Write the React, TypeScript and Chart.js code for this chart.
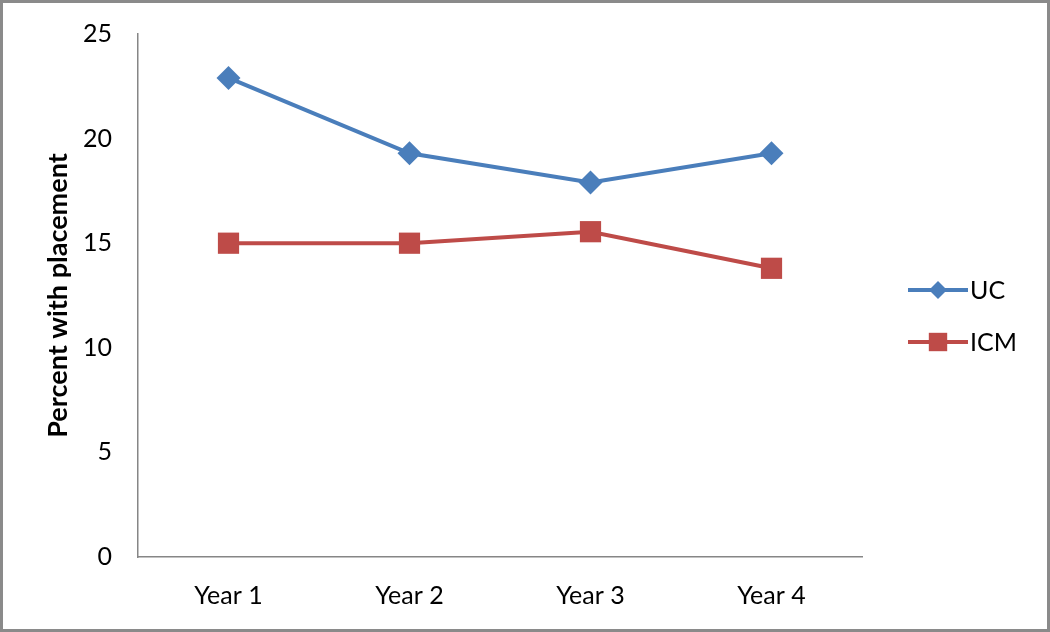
import React, { useEffect, useRef } from "react";
import { Chart, registerables } from "chart.js";

Chart.register(...registerables);

const categories = ["Year 1", "Year 2", "Year 3", "Year 4"];
const ucValues = [22.9, 19.3, 17.9, 19.3];
const icmValues = [15.0, 15.0, 15.55, 13.8];
const seriesNames = ["UC", "ICM"];
const yTicks = [0, 5, 10, 15, 20, 25];

const BLUE = "#4a7ebb";
const RED = "#be4b48";
const FONT = "Lato, 'Open Sans', sans-serif";

export default function App() {
  const ref = useRef<HTMLCanvasElement | null>(null);

  useEffect(() => {
    document.body.style.margin = "0";
    const canvas = ref.current;
    if (!canvas) return;

    const frame = {
      id: "frame",
      beforeDraw(chart: any) {
        const ctx = chart.ctx;
        ctx.save();
        ctx.fillStyle = "#ffffff";
        ctx.fillRect(0, 0, chart.width, chart.height);
        ctx.restore();
      },
      afterDraw(chart: any) {
        const ctx = chart.ctx;
        ctx.save();
        ctx.strokeStyle = "#8a8a8a";
        ctx.lineWidth = 3;
        ctx.strokeRect(1.5, 1.5, chart.width - 3, chart.height - 3);
        // custom legend
        const items = [
          { name: seriesNames[0], color: BLUE, style: "rectRot", r: 9, y: 290 },
          { name: seriesNames[1], color: RED, style: "rect", r: 13, y: 342 },
        ];
        items.forEach((it) => {
          ctx.strokeStyle = it.color;
          ctx.lineWidth = 4;
          ctx.beginPath();
          ctx.moveTo(908, it.y);
          ctx.lineTo(968, it.y);
          ctx.stroke();
          ctx.fillStyle = it.color;
          if (it.style === "rect") {
            const s = it.r * Math.SQRT1_2;
            ctx.fillRect(938 - s, it.y - s, 2 * s, 2 * s);
          } else {
            ctx.beginPath();
            ctx.moveTo(938 - it.r, it.y);
            ctx.lineTo(938, it.y - it.r);
            ctx.lineTo(938 + it.r, it.y);
            ctx.lineTo(938, it.y + it.r);
            ctx.closePath();
            ctx.fill();
          }
          ctx.fillStyle = "#000000";
          ctx.font = `25px ${FONT}`;
          ctx.textBaseline = "middle";
          ctx.textAlign = "left";
          ctx.fillText(it.name, 970, it.y + 1);
        });
        ctx.restore();
      },
    };

    const chart = new Chart(canvas, {
      type: "line",
      data: {
        labels: categories,
        datasets: [
          {
            label: seriesNames[0],
            data: ucValues,
            borderColor: BLUE,
            backgroundColor: BLUE,
            borderWidth: 4,
            pointStyle: "rectRot",
            pointRadius: 12,
            pointBorderWidth: 0,
            pointBackgroundColor: BLUE,
            tension: 0,
          },
          {
            label: seriesNames[1],
            data: icmValues,
            borderColor: RED,
            backgroundColor: RED,
            borderWidth: 4,
            pointStyle: "rect",
            pointRadius: 15,
            pointBorderWidth: 0,
            pointBackgroundColor: RED,
            tension: 0,
          },
        ],
      },
      options: {
        animation: false,
        responsive: false,
        maintainAspectRatio: false,
        layout: { padding: { top: 34, right: 188, left: 0, bottom: 0 } },
        plugins: {
          legend: { display: false },
          tooltip: { enabled: false },
        },
        scales: {
          x: {
            type: "category",
            offset: true,
            grid: { display: false, drawTicks: false },
            border: { display: true, color: "#868686", width: 1.5 },
            ticks: {
              color: "#000000",
              font: { family: FONT, size: 25 },
              padding: 24,
              maxRotation: 0,
            },
            afterFit(scale: any) {
              scale.height = 75;
              scale.paddingLeft = 0;
              scale.paddingRight = 0;
            },
          },
          y: {
            type: "linear",
            min: 0,
            max: 25,
            afterBuildTicks(scale: any) {
              scale.ticks = yTicks.map((v) => ({ value: v }));
            },
            grid: { display: false, drawTicks: false },
            border: { display: true, color: "#868686", width: 1.5 },
            ticks: {
              color: "#000000",
              font: { family: FONT, size: 25 },
              padding: 26,
            },
            title: {
              display: true,
              text: "Percent with placement",
              color: "#000000",
              font: { family: FONT, size: 27, weight: "bold" },
              padding: { top: 42, bottom: 0 },
            },
            afterFit(scale: any) {
              scale.width = 138;
              scale.paddingTop = 0;
              scale.paddingBottom = 0;
            },
          },
        },
      },
      plugins: [frame],
    } as any);

    return () => chart.destroy();
  }, []);

  return (
    <div style={{ position: "relative", width: 1050, height: 632 }}>
      <canvas ref={ref} width={1050} height={632} style={{ display: "block", width: 1050, height: 632 }} />
    </div>
  );
}
